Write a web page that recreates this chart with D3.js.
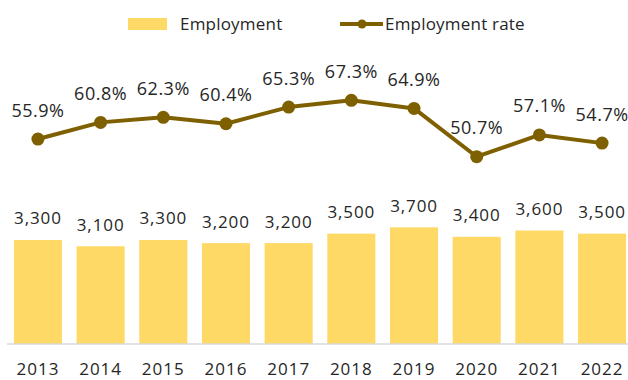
<!DOCTYPE html>
<html>
<head>
<meta charset="utf-8">
<script src="https://cdn.jsdelivr.net/npm/d3@7/dist/d3.min.js"></script>
<style>
  html, body { margin: 0; padding: 0; background: #fff; }
  svg { display: block; font-family: "Open Sans", Lato, sans-serif; }
</style>
</head>
<body>
<svg id="chart" width="628" height="380"></svg>
<script>
// Employment (thousands) and employment rate (%) by year
const years = ["2013", "2014", "2015", "2016", "2017", "2018", "2019", "2020", "2021", "2022"];
const employment = [3300, 3100, 3300, 3200, 3200, 3500, 3700, 3400, 3600, 3500];
const employmentRate = [55.9, 60.8, 62.3, 60.4, 65.3, 67.3, 64.9, 50.7, 57.1, 54.7];
const legendLabels = ["Employment", "Employment rate"];

const barColor = "#FFD966";
const lineColor = "#7F6000";
const textColor = "#262626";
const fontFamily = "'Open Sans', Lato, sans-serif";

const svg = d3.select("#chart");

const x = d3.scaleBand()
  .domain(years)
  .range([7, 633])
  .paddingInner(0.233)
  .paddingOuter(0.11);

const yBar = d3.scaleLinear().domain([0, 4000]).range([344, 217.9]);
const yRate = d3.scaleLinear().domain([40, 70]).range([193.1, 91.1]);

// Bars
svg.append("g").selectAll("rect")
  .data(employment)
  .join("rect")
  .attr("x", (d, i) => x(years[i]))
  .attr("y", d => yBar(d))
  .attr("width", x.bandwidth())
  .attr("height", d => yBar(0) - yBar(d))
  .attr("fill", barColor);

// Bar value labels
svg.append("g").selectAll("text")
  .data(employment)
  .join("text")
  .attr("x", (d, i) => x(years[i]) + x.bandwidth() / 2)
  .attr("y", d => yBar(d) - 15.5)
  .attr("text-anchor", "middle")
  .attr("font-size", 17)
  .attr("letter-spacing", 0.9)
  .attr("fill", textColor)
  .text(d => d3.format(",")(d));

// Baseline and category axis
const xAxis = svg.append("g")
  .attr("transform", `translate(0,${yBar(0)})`)
  .call(d3.axisBottom(x).tickSize(0).tickPadding(0));
xAxis.select(".domain").attr("stroke", "#D9D9D9").attr("stroke-width", 1.5)
  .attr("d", `M7,0H628`);
xAxis.selectAll(".tick text")
  .attr("dy", 0)
  .attr("y", 31)
  .attr("font-size", 17)
  .attr("letter-spacing", 1)
  .attr("font-family", fontFamily)
  .attr("fill", textColor);

// Rate line
const cx = (i) => x(years[i]) + x.bandwidth() / 2;
const line = d3.line()
  .x((d, i) => cx(i))
  .y(d => yRate(d));

svg.append("path")
  .datum(employmentRate)
  .attr("d", line)
  .attr("fill", "none")
  .attr("stroke", lineColor)
  .attr("stroke-width", 4)
  .attr("stroke-linejoin", "round");

svg.append("g").selectAll("circle")
  .data(employmentRate)
  .join("circle")
  .attr("cx", (d, i) => cx(i))
  .attr("cy", d => yRate(d))
  .attr("r", 6.5)
  .attr("fill", lineColor);

svg.append("g").selectAll("text")
  .data(employmentRate)
  .join("text")
  .attr("x", (d, i) => cx(i))
  .attr("y", d => yRate(d) - 22.5)
  .attr("text-anchor", "middle")
  .attr("font-size", 18)
  .attr("letter-spacing", 0.5)
  .attr("fill", textColor)
  .text(d => d.toFixed(1) + "%");

// Legend
const legend = svg.append("g");
legend.append("rect")
  .attr("x", 128).attr("y", 18)
  .attr("width", 39).attr("height", 12)
  .attr("fill", barColor);
legend.append("text")
  .attr("x", 180).attr("y", 29.5)
  .attr("font-size", 17)
  .attr("letter-spacing", 0.2)
  .attr("fill", textColor)
  .text(legendLabels[0]);
legend.append("line")
  .attr("x1", 340).attr("x2", 383)
  .attr("y1", 24).attr("y2", 24)
  .attr("stroke", lineColor)
  .attr("stroke-width", 4);
legend.append("circle")
  .attr("cx", 362).attr("cy", 24).attr("r", 4.5)
  .attr("fill", lineColor);
legend.append("text")
  .attr("x", 385).attr("y", 29.5)
  .attr("font-size", 17)
  .attr("letter-spacing", 0.2)
  .attr("fill", textColor)
  .text(legendLabels[1]);
</script>
</body>
</html>
